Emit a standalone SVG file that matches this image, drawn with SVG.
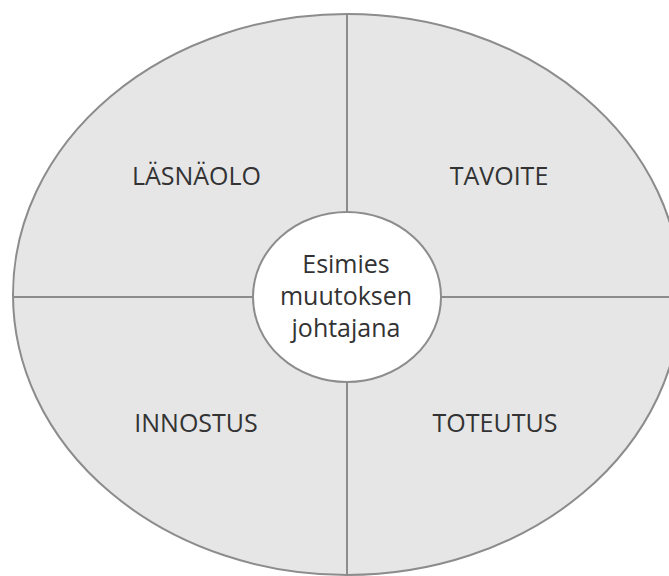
<svg xmlns="http://www.w3.org/2000/svg" width="669" height="576" viewBox="0 0 669 576">
<style>
.q{fill:#e6e6e7;stroke:#8c8c8c;stroke-width:2}
.ln{stroke:#8c8c8c;stroke-width:2;fill:none}
.t{font-family:"Open Sans","Noto Sans",sans-serif;font-size:25px;fill:#333;text-anchor:middle}
</style>
<rect width="669" height="576" fill="#fff"/>
<g id="outer"><ellipse class="q" cx="347" cy="294.5" rx="334" ry="280.5"/></g>
<g id="connectors">
<line class="ln" x1="347" y1="14" x2="347" y2="576"/>
<line class="ln" x1="13" y1="297" x2="669" y2="297"/>
</g>
<g id="lasnaolo"><text class="t" x="196.5" y="185">LÄSNÄOLO</text></g>
<g id="tavoite"><text class="t" x="499" y="185">TAVOITE</text></g>
<g id="innostus"><text class="t" x="196" y="432">INNOSTUS</text></g>
<g id="toteutus"><text class="t" x="495" y="432">TOTEUTUS</text></g>
<g id="center">
<ellipse cx="347" cy="297" rx="94" ry="85" fill="#fff" stroke="#8c8c8c" stroke-width="2"/>
<text class="t" x="346" y="273">Esimies</text>
<text class="t" x="346" y="305">muutoksen</text>
<text class="t" x="346" y="337">johtajana</text>
</g>
</svg>
